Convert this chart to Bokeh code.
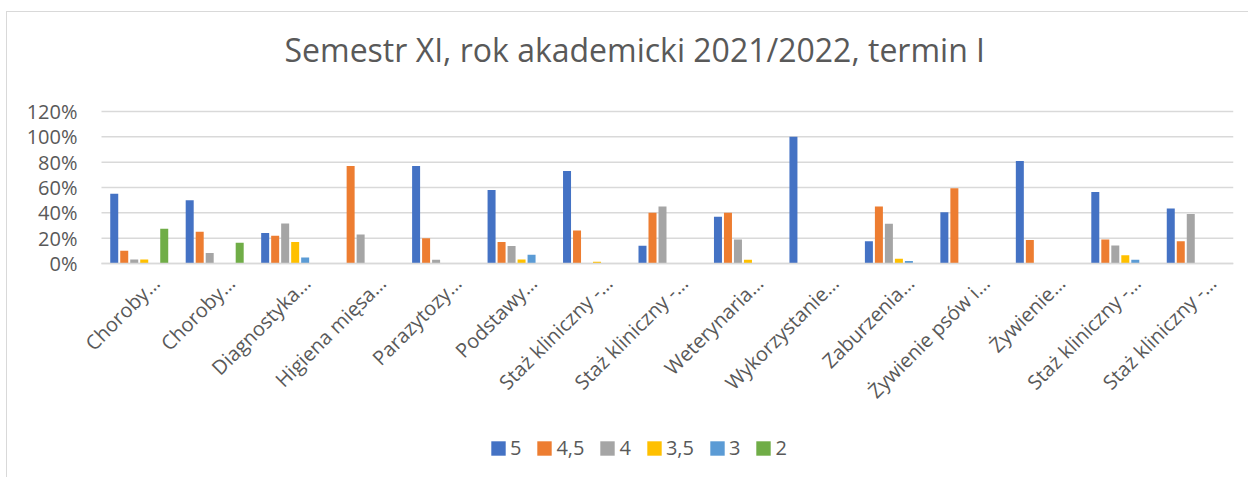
import math
from bokeh.plotting import figure
from bokeh.models import (Range1d, FixedTicker, NumeralTickFormatter, Legend, LegendItem,
                          ColumnDataSource, Title)
from bokeh.transform import dodge
from bokeh.embed import file_html
from bokeh.resources import INLINE

categories = ["Choroby…", "Choroby…", "Diagnostyka…", "Higiena mięsa…", "Parazytozy…",
              "Podstawy…", "Staż kliniczny -…", "Staż kliniczny -…", "Weterynaria…",
              "Wykorzystanie…", "Zaburzenia…", "Żywienie psów i…", "Żywienie…",
              "Staż kliniczny -…", "Staż kliniczny -…"]
series_names = ["5", "4,5", "4", "3,5", "3", "2"]
grade_5 = [0.55, 0.50, 0.24, 0.0, 0.77, 0.58, 0.73, 0.14, 0.37, 1.00, 0.175, 0.405, 0.81, 0.565, 0.435]
grade_4_5 = [0.10, 0.25, 0.22, 0.77, 0.20, 0.17, 0.26, 0.40, 0.40, 0.0, 0.45, 0.595, 0.185, 0.19, 0.175]
grade_4 = [0.032, 0.082, 0.315, 0.228, 0.029, 0.138, 0.0, 0.45, 0.19, 0.0, 0.313, 0.0, 0.0, 0.143, 0.39]
grade_3_5 = [0.032, 0.0, 0.17, 0.0, 0.0, 0.032, 0.013, 0.0, 0.029, 0.0, 0.037, 0.0, 0.0, 0.066, 0.0]
grade_3 = [0.0, 0.0, 0.048, 0.0, 0.0, 0.069, 0.0, 0.0, 0.0, 0.0, 0.019, 0.0, 0.0, 0.029, 0.0]
grade_2 = [0.275, 0.164, 0.0, 0.0, 0.0, 0.0, 0.0, 0.0, 0.0, 0.0, 0.0, 0.0, 0.0, 0.0, 0.0]
colors = ["#4472C4", "#ED7D31", "#A5A5A5", "#FFC000", "#5B9BD5", "#70AD47"]
y_ticks = [0, 0.2, 0.4, 0.6, 0.8, 1.0, 1.2]

series_values = [grade_5, grade_4_5, grade_4, grade_3_5, grade_3, grade_2]
keys = ["g5", "g45", "g4", "g35", "g3", "g2"]
n = len(categories)
xs = list(range(n))
data = {"x": xs}
for k, v in zip(keys, series_values):
    data[k] = v
source = ColumnDataSource(data)

FONT = "Open Sans"
TXT = "#595959"
GRID = "#D9D9D9"

# layout (canvas pixels)
W, H = 1242, 466
F_LEFT, PLOT_LEFT, F_RIGHT = 4, 94, 1226      # frame left, category area left, frame right
F_TOP, TOP_LINE, ZERO, F_BOT = 84, 99, 251, 458  # frame top, top gridline, zero line, frame bottom
x_lo, x_hi = -0.5, n - 0.5
x_start = x_lo - (PLOT_LEFT - F_LEFT) * (x_hi - x_lo) / (F_RIGHT - PLOT_LEFT)
y_top = 1.2
px_per_unit = (ZERO - TOP_LINE) / y_top
y_end = y_top + (TOP_LINE - F_TOP) / px_per_unit
y_start = -(F_BOT - ZERO) / px_per_unit

p = figure(width=W, height=H, output_backend="svg", toolbar_location=None,
           x_range=Range1d(x_start, x_hi), y_range=Range1d(y_start, y_end),
           min_border_left=F_LEFT, min_border_right=W - F_RIGHT, min_border_top=F_TOP,
           min_border_bottom=H - F_BOT)
p.styles = {"margin-left": "6px", "margin-top": "11px",
            "border-left": "1px solid #D9D9D9", "border-top": "1px solid #D9D9D9"}
p.outline_line_color = None
p.xgrid.grid_line_color = None
p.ygrid.grid_line_color = None

# spacer between frame and title, then the title itself
p.add_layout(Title(text=" ", text_font_size="8px"), "above")
p.add_layout(Title(text="Semestr XI, rok akademicki 2021/2022, termin I",
                   text_font=FONT, text_font_size="32px", text_color=TXT,
                   text_font_style="normal", align="left", offset=183 + PLOT_LEFT - F_LEFT),
             "above")

# horizontal gridlines over the category area only
grid_src = ColumnDataSource({"y": y_ticks, "x0": [x_lo] * len(y_ticks), "x1": [x_hi] * len(y_ticks)})
p.segment(x0="x0", x1="x1", y0="y", y1="y", source=grid_src, line_color=GRID, line_width=1.5)

slot = 0.1325
bw = 0.106
renderers = []
for i, (k, c) in enumerate(zip(keys, colors)):
    off = (i - 2.5) * slot
    r = p.vbar(x=dodge("x", off), top=k, width=bw, bottom=0, source=source,
               fill_color=c, line_color=None)
    renderers.append(r)

p.yaxis.fixed_location = x_lo
p.yaxis.bounds = (0, y_top)
p.yaxis.ticker = FixedTicker(ticks=y_ticks)
p.yaxis.formatter = NumeralTickFormatter(format="0%")
p.yaxis.axis_line_color = None
p.yaxis.major_tick_line_color = None
p.yaxis.minor_tick_line_color = None
p.yaxis.major_label_text_font = FONT
p.yaxis.major_label_text_font_size = "20px"
p.yaxis.major_label_text_color = TXT
p.yaxis.major_label_standoff = 18

label_shift = 0.22
label_ticks = [x + label_shift for x in xs]
p.xaxis.fixed_location = 0
p.xaxis.bounds = (x_lo, x_hi)
p.xaxis.ticker = FixedTicker(ticks=label_ticks)
p.xaxis.major_label_overrides = {t: c for t, c in zip(label_ticks, categories)}
p.xaxis.major_label_orientation = math.pi / 4
p.xaxis.axis_line_color = GRID
p.xaxis.axis_line_width = 1.5
p.xaxis.major_tick_line_color = None
p.xaxis.minor_tick_line_color = None
p.xaxis.major_label_text_font = FONT
p.xaxis.major_label_text_font_size = "20px"
p.xaxis.major_label_text_color = TXT
p.xaxis.major_label_standoff = 10

legend = Legend(items=[LegendItem(label=s, renderers=[r]) for s, r in zip(series_names, renderers)],
                orientation="horizontal", location=(388 + PLOT_LEFT - F_LEFT, 9))
legend.border_line_color = None
legend.background_fill_alpha = 0
legend.glyph_width = 18
legend.glyph_height = 18
legend.label_standoff = 3
legend.label_width = 0
legend.spacing = 14
legend.padding = 0
legend.margin = 0
legend.label_text_font = FONT
legend.label_text_font_size = "20px"
legend.label_text_color = TXT
p.add_layout(legend, "center")

open("out.html", "w").write(file_html(p, INLINE))
